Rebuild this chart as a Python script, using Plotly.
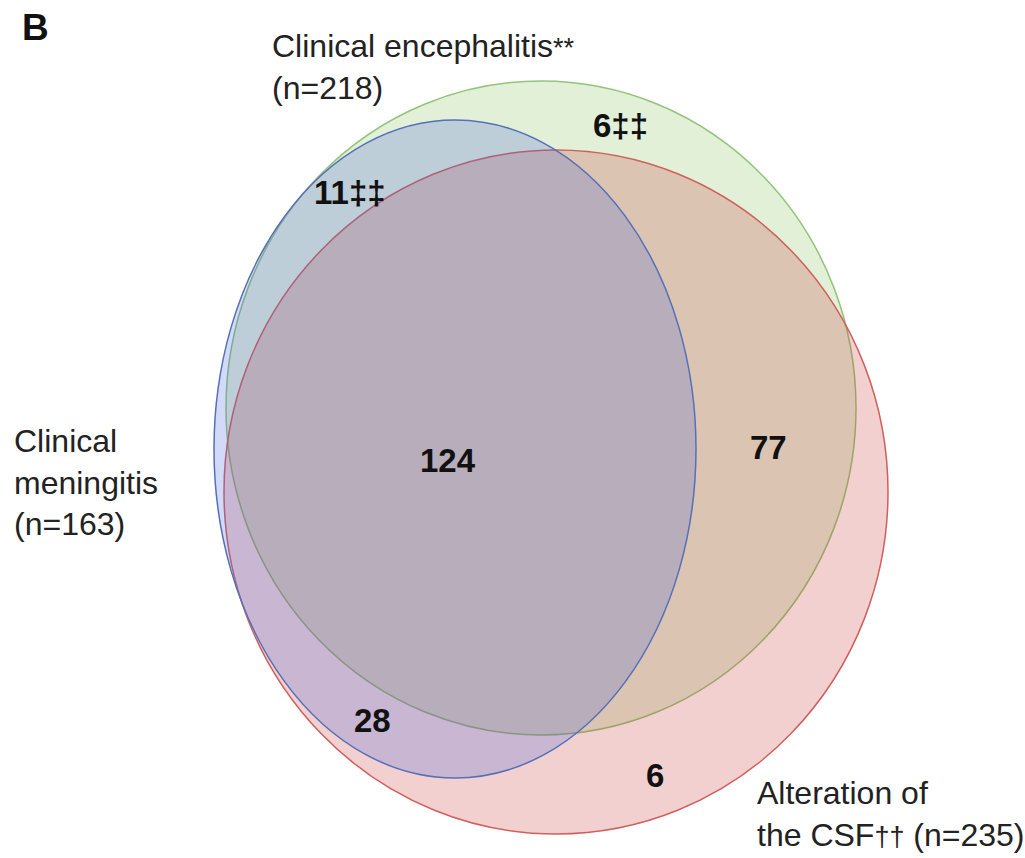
import plotly.graph_objects as go

# Sets (name, n) and region counts
set_names = ["Clinical encephalitis", "Clinical meningitis", "Alteration of the CSF"]
set_marks = ["**", "", "††"]
set_sizes = [218, 163, 235]
region_labels = ["6‡‡", "11‡‡", "124", "77", "28", "6"]

# ellipse geometry (pixel-like coordinates of the canvas); drawn green, red, blue
ell_cx = [541, 556, 455]
ell_cy = [408, 492, 449]
ell_rx = [315, 332, 241]
ell_ry = [327, 342, 329]
ell_fill = ["rgba(110,180,60,0.20)", "rgba(195,60,55,0.24)", "rgba(70,100,220,0.24)"]
ell_line = ["#93C47A", "#D0605D", "#5470B8"]

region_x = [620, 350, 448, 768, 372, 655]
region_y = [125, 192, 460, 447, 720, 775]

FONT = "Liberation Sans, Arial, sans-serif"

fig = go.Figure()
fig.add_trace(go.Scatter(x=[0, 1025], y=[0, 858], mode="markers",
                         marker=dict(opacity=0), hoverinfo="skip", showlegend=False))

for cx, cy, rx, ry, fc, lc in zip(ell_cx, ell_cy, ell_rx, ell_ry, ell_fill, ell_line):
    fig.add_shape(type="circle", xref="x", yref="y",
                  x0=cx - rx, x1=cx + rx, y0=cy - ry, y1=cy + ry,
                  fillcolor=fc, line=dict(color=lc, width=1.5), layer="above")

for lab, x, y in zip(region_labels, region_x, region_y):
    fig.add_annotation(x=x, y=y, text="<b>" + lab + "</b>", showarrow=False,
                       font=dict(family=FONT, size=33, color="#111111"))

def small(s):
    return "<span style='font-size:27px'>" + s + "</span>" if s else ""

# Set labels
fig.add_annotation(x=270, y=67, xanchor="left", yanchor="middle", showarrow=False,
                   align="left",
                   text=set_names[0] + small(set_marks[0]) + "<br>(n=" + str(set_sizes[0]) + ")",
                   font=dict(family=FONT, size=32, color="#222222"))
fig.add_annotation(x=12, y=482, xanchor="left", yanchor="middle", showarrow=False,
                   align="left",
                   text="Clinical<br>meningitis<br>(n=" + str(set_sizes[1]) + ")",
                   font=dict(family=FONT, size=32, color="#222222"))
fig.add_annotation(x=755, y=814, xanchor="left", yanchor="middle", showarrow=False,
                   align="left",
                   text="Alteration of<br>the CSF" + small(set_marks[2]) + " (n=" + str(set_sizes[2]) + ")",
                   font=dict(family=FONT, size=32, color="#222222"))
fig.add_annotation(x=20, y=27, xanchor="left", yanchor="middle", showarrow=False,
                   text="<b>B</b>", font=dict(family=FONT, size=37, color="#111111"))

fig.update_xaxes(range=[0, 1025], visible=False, fixedrange=True)
fig.update_yaxes(range=[858, 0], visible=False, fixedrange=True)
fig.update_layout(width=1025, height=858, margin=dict(l=0, r=0, t=0, b=0),
                  plot_bgcolor="white", paper_bgcolor="white", showlegend=False)

fig.write_html("out.html", config={"displayModeBar": False},
               post_script="document.body.style.margin='0';")
